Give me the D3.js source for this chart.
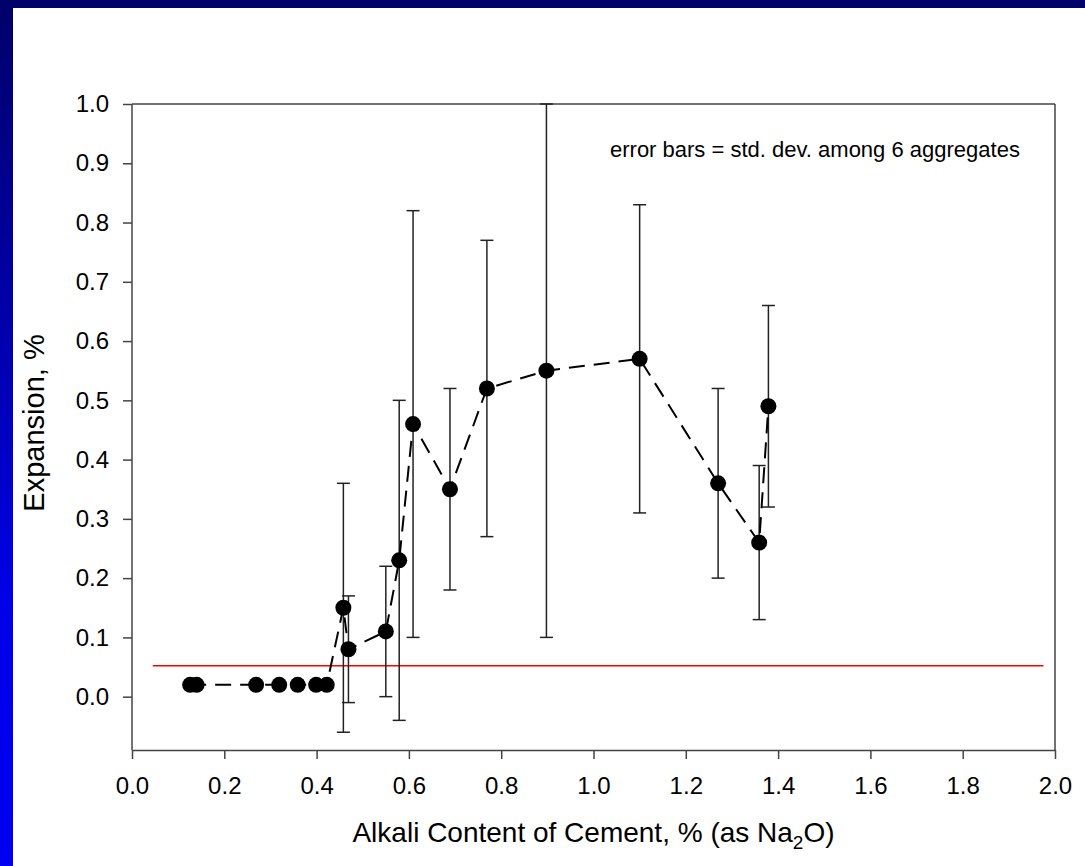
<!DOCTYPE html>
<html>
<head>
<meta charset="utf-8">
<script src="https://cdn.jsdelivr.net/npm/d3@7"></script>
<style>
  html, body { margin: 0; padding: 0; background: #fff; }
  svg { display: block; font-family: Arial, "Liberation Sans", sans-serif; }
</style>
</head>
<body>
<svg id="chart" width="1085" height="866"></svg>
<script>
// --- Data ---
const alkali    = [0.126, 0.140, 0.269, 0.319, 0.359, 0.399, 0.422, 0.458, 0.469, 0.550,
                   0.579, 0.609, 0.689, 0.769, 0.898, 1.100, 1.270, 1.359, 1.379];
const expansion = [0.02, 0.02, 0.02, 0.02, 0.02, 0.02, 0.02, 0.15, 0.08, 0.11,
                   0.23, 0.46, 0.35, 0.52, 0.55, 0.57, 0.36, 0.26, 0.49];
const stdDev    = [null, null, null, null, null, null, null, 0.21, 0.09, 0.11,
                   0.27, 0.36, 0.17, 0.25, 0.45, 0.26, 0.16, 0.13, 0.17];
const limitLine = { x: [0.045, 1.975], y: 0.052 };
const xTicks = [0, 0.2, 0.4, 0.6, 0.8, 1.0, 1.2, 1.4, 1.6, 1.8, 2.0];
const yTicks = [0, 0.1, 0.2, 0.3, 0.4, 0.5, 0.6, 0.7, 0.8, 0.9, 1.0];

(function() {
  'use strict';

  const svg = d3.select('#chart');
  const W = 1085, H = 866;
  const plot = { left: 132, right: 1055, top: 104, bottom: 750 };
  const axisColor = '#444';

  // --- Slide background (blue frame on left/top) ---
  const grad = svg.append('defs').append('linearGradient')
    .attr('id', 'frame').attr('x1', 0).attr('y1', 0).attr('x2', 0).attr('y2', 1);
  grad.append('stop').attr('offset', '0%').attr('stop-color', '#00006a');
  grad.append('stop').attr('offset', '45%').attr('stop-color', '#0000b8');
  grad.append('stop').attr('offset', '70%').attr('stop-color', '#0000e8');
  grad.append('stop').attr('offset', '100%').attr('stop-color', '#0000f2');

  svg.append('rect').attr('width', W).attr('height', H).attr('fill', 'url(#frame)');
  svg.append('rect').attr('x', 13).attr('y', 8).attr('width', W - 13).attr('height', H - 8)
    .attr('fill', '#fff');

  // --- Scales ---
  const x = d3.scaleLinear().domain([0, 2]).range([plot.left, plot.right]);
  const y = d3.scaleLinear().domain([-0.09, 1.0]).range([plot.bottom, plot.top]);

  // --- Axes ---
  const xAxis = svg.append('g')
    .attr('transform', `translate(0,${plot.bottom})`)
    .call(d3.axisBottom(x).tickValues(xTicks).tickFormat(d3.format('.1f'))
      .tickSizeInner(9).tickSizeOuter(0).tickPadding(18));

  const yAxis = svg.append('g')
    .attr('transform', `translate(${plot.left},0)`)
    .call(d3.axisLeft(y).tickValues(yTicks).tickFormat(d3.format('.1f'))
      .tickSizeInner(9).tickSizeOuter(0).tickPadding(14));

  [xAxis, yAxis].forEach(g => {
    g.select('.domain').attr('stroke', axisColor).attr('stroke-width', 1.5);
    g.selectAll('.tick line').attr('stroke', axisColor).attr('stroke-width', 1.5);
    g.selectAll('.tick text').attr('fill', '#000').attr('font-size', 24)
      .attr('font-family', 'Arial, "Liberation Sans", sans-serif');
  });
  yAxis.select('.domain').attr('d', `M0,${plot.top}V${plot.bottom}`);

  // top and right frame lines
  svg.append('line')
    .attr('x1', plot.left).attr('x2', plot.right)
    .attr('y1', plot.top).attr('y2', plot.top)
    .attr('stroke', axisColor).attr('stroke-width', 1.5);
  svg.append('line')
    .attr('x1', plot.right).attr('x2', plot.right)
    .attr('y1', plot.top).attr('y2', plot.bottom)
    .attr('stroke', axisColor).attr('stroke-width', 1.5);

  // --- Axis titles ---
  svg.append('text')
    .attr('x', (plot.left + plot.right) / 2).attr('y', 842)
    .attr('text-anchor', 'middle').attr('font-size', 28)
    .call(t => {
      t.append('tspan').text('Alkali Content of Cement, % (as Na');
      t.append('tspan').attr('font-size', 19).attr('dy', 7).text('2');
      t.append('tspan').attr('dy', -7).text('O)');
    });

  svg.append('text')
    .attr('transform', `translate(44,${(plot.top + plot.bottom) / 2 - 4}) rotate(-90)`)
    .attr('text-anchor', 'middle').attr('font-size', 29)
    .text('Expansion, %');

  // --- Annotation ---
  svg.append('text')
    .attr('x', 610).attr('y', 157).attr('font-size', 22)
    .text('error bars = std. dev. among 6 aggregates');

  // --- Limit line ---
  svg.append('line')
    .attr('x1', x(limitLine.x[0])).attr('x2', x(limitLine.x[1]))
    .attr('y1', y(limitLine.y)).attr('y2', y(limitLine.y))
    .attr('stroke', '#ff0000').attr('stroke-width', 1.5);

  const points = alkali.map((a, i) => ({ x: a, y: expansion[i], sd: stdDev[i] }));

  // --- Error bars ---
  const bars = svg.append('g').selectAll('g')
    .data(points.filter(d => d.sd != null))
    .enter().append('g')
    .attr('stroke', '#222').attr('stroke-width', 1.5);

  bars.append('line')
    .attr('x1', d => x(d.x)).attr('x2', d => x(d.x))
    .attr('y1', d => y(d.y + d.sd)).attr('y2', d => y(d.y - d.sd));
  bars.append('line')
    .attr('x1', d => x(d.x) - 6.5).attr('x2', d => x(d.x) + 6.5)
    .attr('y1', d => y(d.y + d.sd)).attr('y2', d => y(d.y + d.sd));
  bars.append('line')
    .attr('x1', d => x(d.x) - 6.5).attr('x2', d => x(d.x) + 6.5)
    .attr('y1', d => y(d.y - d.sd)).attr('y2', d => y(d.y - d.sd));

  // --- Dashed series line ---
  const line = d3.line().x(d => x(d.x)).y(d => y(d.y));
  svg.append('path')
    .datum(points)
    .attr('d', line)
    .attr('fill', 'none')
    .attr('stroke', '#000')
    .attr('stroke-width', 2)
    .attr('stroke-dasharray', '16,9');

  // --- Markers ---
  svg.append('g').selectAll('circle')
    .data(points)
    .enter().append('circle')
    .attr('cx', d => x(d.x))
    .attr('cy', d => y(d.y))
    .attr('r', 8)
    .attr('fill', '#000');
})();
</script>
</body>
</html>
